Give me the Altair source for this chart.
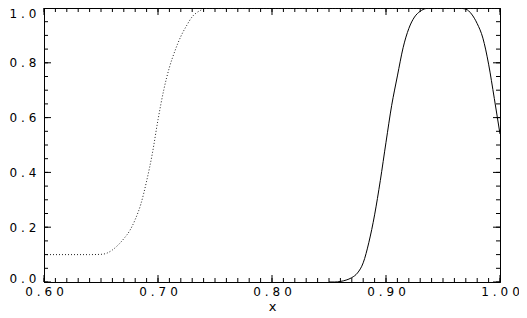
import altair as alt
import pandas as pd

# tick positions / labels
x_major = [0.60, 0.70, 0.80, 0.90, 1.00]
y_major = [0.0, 0.2, 0.4, 0.6, 0.8, 1.0]
x_minor = [round(0.60 + 0.01 * i, 2) for i in range(41)]
y_minor = [round(0.05 * i, 2) for i in range(21)]

# dotted curve
dotted_x = [0.600, 0.620, 0.640, 0.650, 0.655, 0.660, 0.665, 0.670, 0.675, 0.680,
            0.685, 0.690, 0.695, 0.700, 0.705, 0.710, 0.715, 0.720, 0.725, 0.730,
            0.735, 0.740, 0.745, 0.750, 0.800, 0.900, 1.000]
dotted_y = [0.100, 0.100, 0.100, 0.101, 0.105, 0.117, 0.135, 0.158, 0.186, 0.228,
            0.285, 0.368, 0.468, 0.592, 0.700, 0.783, 0.845, 0.896, 0.935, 0.968,
            0.986, 0.996, 1.000, 1.000, 1.000, 1.000, 1.000]

# solid curve
solid_x = [0.850, 0.855, 0.860, 0.865, 0.870, 0.875, 0.880, 0.885, 0.890, 0.895,
           0.900, 0.905, 0.910, 0.915, 0.920, 0.925, 0.930, 0.935, 0.940, 0.950,
           0.960, 0.965, 0.970, 0.975, 0.980, 0.985, 0.990, 0.995, 1.000]
solid_y = [0.000, 0.000, 0.002, 0.007, 0.016, 0.033, 0.070, 0.145, 0.245, 0.370,
           0.510, 0.645, 0.752, 0.855, 0.925, 0.967, 0.988, 0.998, 1.000, 1.000,
           1.000, 0.999, 0.996, 0.978, 0.943, 0.890, 0.795, 0.670, 0.540]

W, H = 456, 274
FONT = "DejaVu Sans"
FS = 12
SP = "\u2004"
MAJ, MIN = 7, 4

xs = alt.Scale(domain=[0.6, 1.0], nice=False, zero=False)
ys = alt.Scale(domain=[0.0, 1.0], nice=False, zero=False)

dotted_df = pd.DataFrame({"x": dotted_x, "y": dotted_y})
solid_df = pd.DataFrame({"x": solid_x, "y": solid_y})


def spaced(fmt, n):
    s = "format(datum.value, '%s')" % fmt
    parts = ["slice(%s, %d, %d)" % (s, i, i + 1) for i in range(n)]
    return (" + '" + SP + "' + ").join(parts)


XAXIS = alt.Axis(values=x_major, ticks=False, grid=False, domain=True,
                 domainColor="black", labelFont=FONT, labelFontSize=FS,
                 labelColor="black", labelFlush=False, labelOverlap=False,
                 labelPadding=4, labelExpr=spaced(".2f", 4),
                 title="x", titleFont=FONT, titleFontSize=13,
                 titleFontWeight="normal", titleColor="black", titlePadding=3)
YAXIS = alt.Axis(values=y_major, ticks=False, grid=False, domain=True,
                 domainColor="black", labelFont=FONT, labelFontSize=FS,
                 labelColor="black", labelFlush=False, labelOverlap=False,
                 labelPadding=8, labelExpr=spaced(".1f", 3), title="",
                 labelBaseline={"condition": {"test": "datum.value >= 0.99",
                                              "value": "top"},
                                "value": "middle"},
                 labelOffset={"condition": {"test": "datum.value <= 0.01",
                                            "value": -4},
                              "value": 0})

X = alt.X("x:Q", scale=xs, axis=XAXIS)
Y = alt.Y("y:Q", scale=ys, axis=YAXIS)

solid = alt.Chart(solid_df).mark_line(
    color="black", strokeWidth=1, interpolate="monotone").encode(x=X, y=Y)

dotted = alt.Chart(dotted_df).mark_line(
    color="#222222", strokeWidth=1, strokeDash=[1, 2], interpolate="monotone").encode(x=X, y=Y)


def xticks(vals, length, top):
    df = pd.DataFrame({"x": vals})
    if top:
        y1, y2 = 0, length
    else:
        y1, y2 = H, H - length
    return alt.Chart(df).mark_rule(color="black", strokeWidth=1).encode(
        x=X, y=alt.value(y1), y2=alt.value(y2))


def yticks(vals, length, right):
    df = pd.DataFrame({"y": vals})
    if right:
        x1, x2 = W, W - length
    else:
        x1, x2 = 0, length
    return alt.Chart(df).mark_rule(color="black", strokeWidth=1).encode(
        y=Y, x=alt.value(x1), x2=alt.value(x2))


layers = [
    solid, dotted,
    xticks(x_minor, MIN, False), xticks(x_major, MAJ, False),
    xticks(x_minor, MIN, True), xticks(x_major, MAJ, True),
    yticks(y_minor, MIN, False), yticks(y_major, MAJ, False),
    yticks(y_minor, MIN, True), yticks(y_major, MAJ, True),
]

chart = alt.layer(*layers).properties(
    width=W, height=H,
    autosize=alt.AutoSizeParams(type="none"),
    padding={"left": 36, "top": 0, "right": 19, "bottom": 36},
    background="white",
).configure_view(stroke="black", strokeWidth=1)

chart.save("out.html", embed_options={"renderer": "svg", "actions": False})
